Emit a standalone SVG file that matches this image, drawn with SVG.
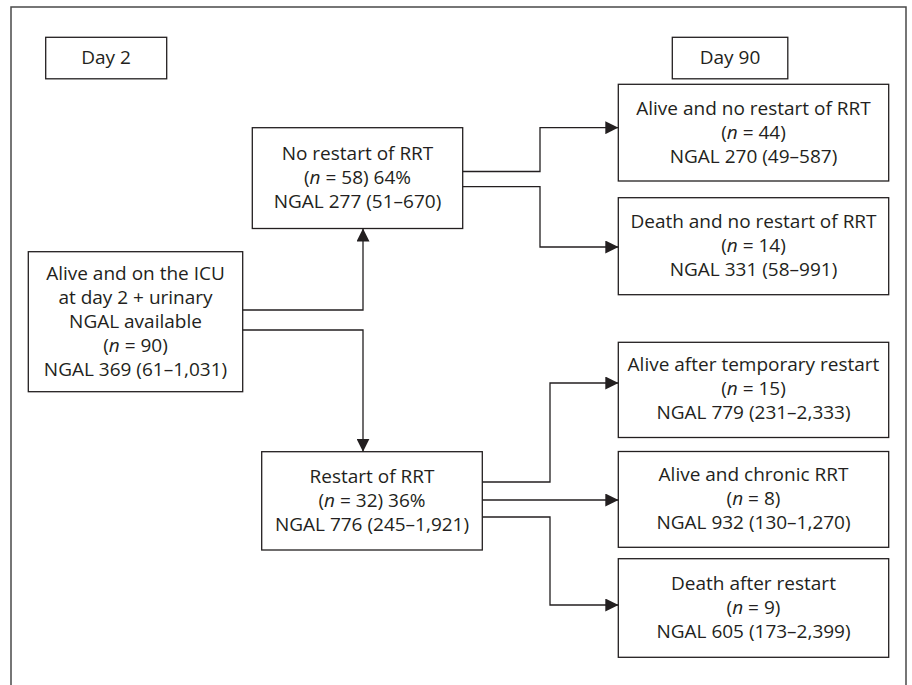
<svg xmlns="http://www.w3.org/2000/svg" width="912" height="685" viewBox="0 0 912 685">
<defs>
<style>
.box{fill:#fff;stroke:#231f20;stroke-width:1.3}
.t{font-family:"Open Sans","Noto Sans","Liberation Sans",sans-serif;font-size:19px;fill:#231f20;text-anchor:middle}
.c{fill:none;stroke:#231f20;stroke-width:1.3}
.i{font-style:italic}
</style>
<marker id="ah" markerUnits="userSpaceOnUse" markerWidth="13" markerHeight="13" refX="13" refY="6.5" orient="auto">
<path d="M0,0 L13,6.5 L0,13 z" fill="#231f20"/>
</marker>
</defs>
<rect width="912" height="685" fill="#fff"/>
<path d="M11,690 V7 H906 V690" fill="none" stroke="#4a4a4a" stroke-width="1.5"/>

<g id="day2"><rect class="box" x="45.7" y="37.3" width="121" height="41.5"/><text class="t" x="106" y="63.5">Day 2</text></g>
<g id="day90"><rect class="box" x="672.3" y="37.3" width="115.5" height="41.5"/><text class="t" x="730" y="63.5">Day 90</text></g>

<g id="icu"><rect class="box" x="28.3" y="251.7" width="214.4" height="140"/>
<text class="t" x="135.5" y="279.5">Alive and on the ICU</text>
<text class="t" x="135.5" y="303.6">at day 2 + urinary</text>
<text class="t" x="135.5" y="327.7">NGAL available</text>
<text class="t" x="135.5" y="351.8">(<tspan class="i">n</tspan> = 90)</text>
<text class="t" x="135.5" y="376">NGAL 369 (61–1,031)</text></g>

<g id="norestart"><rect class="box" x="252.3" y="127.7" width="210.4" height="100.8"/>
<text class="t" x="357.5" y="160">No restart of RRT</text>
<text class="t" x="357.5" y="184">(<tspan class="i">n</tspan> = 58) 64%</text>
<text class="t" x="357.5" y="208">NGAL 277 (51–670)</text></g>

<g id="restart"><rect class="box" x="261.7" y="451.7" width="220.6" height="98.3"/>
<text class="t" x="372" y="482.5">Restart of RRT</text>
<text class="t" x="372" y="506.5">(<tspan class="i">n</tspan> = 32) 36%</text>
<text class="t" x="372" y="530.5">NGAL 776 (245–1,921)</text></g>

<g id="alivenorestart"><rect class="box" x="618.3" y="84.3" width="270.4" height="96.7"/>
<text class="t" x="753.5" y="114.5">Alive and no restart of RRT</text>
<text class="t" x="753.5" y="138.5">(<tspan class="i">n</tspan> = 44)</text>
<text class="t" x="753.5" y="162.5">NGAL 270 (49–587)</text></g>

<g id="deathnorestart"><rect class="box" x="618.3" y="197.7" width="270.4" height="97"/>
<text class="t" x="753.5" y="227.5">Death and no restart of RRT</text>
<text class="t" x="753.5" y="251.7">(<tspan class="i">n</tspan> = 14)</text>
<text class="t" x="753.5" y="275.7">NGAL 331 (58–991)</text></g>

<g id="alivetemp"><rect class="box" x="618.3" y="342.3" width="270.4" height="95.2"/>
<text class="t" x="753.5" y="371">Alive after temporary restart</text>
<text class="t" x="753.5" y="395">(<tspan class="i">n</tspan> = 15)</text>
<text class="t" x="753.5" y="419">NGAL 779 (231–2,333)</text></g>

<g id="alivechronic"><rect class="box" x="618.3" y="451.5" width="270.4" height="95.8"/>
<text class="t" x="753.5" y="480.5">Alive and chronic RRT</text>
<text class="t" x="753.5" y="504.5">(<tspan class="i">n</tspan> = 8)</text>
<text class="t" x="753.5" y="528.5">NGAL 932 (130–1,270)</text></g>

<g id="deathafter"><rect class="box" x="618.3" y="558.7" width="270.4" height="98.6"/>
<text class="t" x="753.5" y="589.5">Death after restart</text>
<text class="t" x="753.5" y="613.5">(<tspan class="i">n</tspan> = 9)</text>
<text class="t" x="753.5" y="637.5">NGAL 605 (173–2,399)</text></g>

<g id="connectors">
<path class="c" d="M242.7,310 H363 V228.5" marker-end="url(#ah)"/>
<path class="c" d="M242.7,330 H363 V451.7" marker-end="url(#ah)"/>
<path class="c" d="M462.7,171.5 H540 V127.7 H618.3" marker-end="url(#ah)"/>
<path class="c" d="M462.7,186.7 H540 V247 H618.3" marker-end="url(#ah)"/>
<path class="c" d="M482.3,482 H550 V383 H618.3" marker-end="url(#ah)"/>
<path class="c" d="M482.3,500 H618.3" marker-end="url(#ah)"/>
<path class="c" d="M482.3,517 H550 V605 H618.3" marker-end="url(#ah)"/>
</g>
</svg>
